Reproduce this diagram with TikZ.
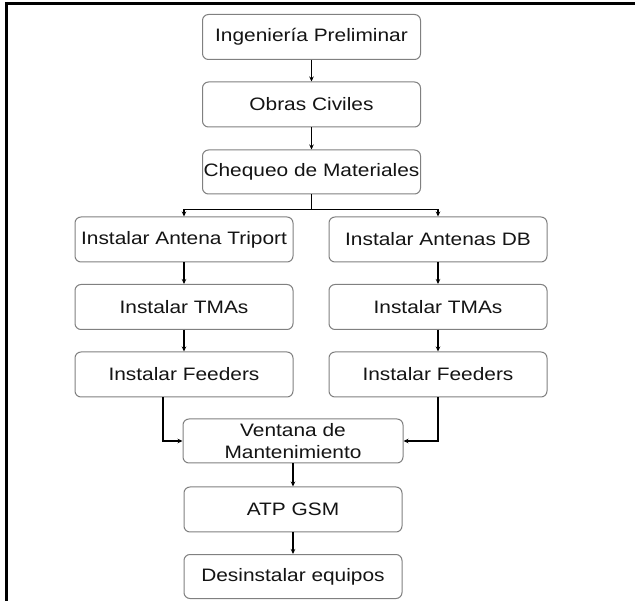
\documentclass[tikz,border=0pt]{standalone}
\usepackage{fontspec}
\setmainfont{Liberation Sans}[FakeStretch=1.16]
\usetikzlibrary{arrows.meta}
\begin{document}
\begin{tikzpicture}[x=1pt,y=-1pt,
  stepbox/.style={draw=black!50, line width=1pt, rounded corners=6pt, fill=white,
    minimum width=218pt, minimum height=45pt, inner sep=0pt,
    text=black!92, font=\fontsize{18}{22}\selectfont, align=center},
  link/.style={draw=black, line width=1.5pt},
  flow/.style={link, -{Stealth[length=5pt,width=4.5pt]}},
  frameline/.style={draw=black, line width=3pt}]
  \useasboundingbox (0,0) rectangle (635,601);

  % outer frame (top and left edges)
  \draw[frameline] (6.3,2) -- (6.3,601);
  \draw[frameline] (4.8,3.5) -- (635,3.5);

  % main column
  \node[stepbox] (ing) at (311.5,37)   {Ingeniería Preliminar};
  \node[stepbox] (obr) at (311.5,104.5) {Obras Civiles};
  \node[stepbox, minimum height=44pt] (che) at (311.5,172) {Chequeo de Materiales};

  % left branch
  \node[stepbox] (ant) at (184,239.5) {Instalar Antena Triport};
  \node[stepbox] (tmaL) at (184,307)  {Instalar TMAs};
  \node[stepbox] (feeL) at (184,374.5) {Instalar Feeders};

  % right branch
  \node[stepbox] (antDB) at (438,239.5) {Instalar Antenas DB};
  \node[stepbox] (tmaR) at (438,307)   {Instalar TMAs};
  \node[stepbox] (feeR) at (438,374.5) {Instalar Feeders};

  % merge and final steps
  \node[stepbox, minimum width=220pt, minimum height=44pt] (ven) at (293,441)
    {Ventana de\\Mantenimiento};
  \node[stepbox] (atp) at (293,509.5) {ATP GSM};
  \node[stepbox, minimum height=44pt] (des) at (293,576.5) {Desinstalar equipos};

  % connectors
  \draw[flow] (ing) -- (obr);
  \draw[flow] (obr) -- (che);
  \coordinate (fork) at (311.5,209.5);
  \draw[link] (che) -- (fork);
  \draw[flow] (fork) -| (ant);
  \draw[flow] (fork) -| (antDB);
  \draw[flow] (ant) -- (tmaL);
  \draw[flow] (tmaL) -- (feeL);
  \draw[flow] (antDB) -- (tmaR);
  \draw[flow] (tmaR) -- (feeR);
  \draw[flow] ([xshift=-21pt]feeL.south) |- (ven.west);
  \draw[flow] (feeR.south) |- (ven.east);
  \draw[flow] (ven) -- (atp);
  \draw[flow] (atp) -- (des);
\end{tikzpicture}
\end{document}
